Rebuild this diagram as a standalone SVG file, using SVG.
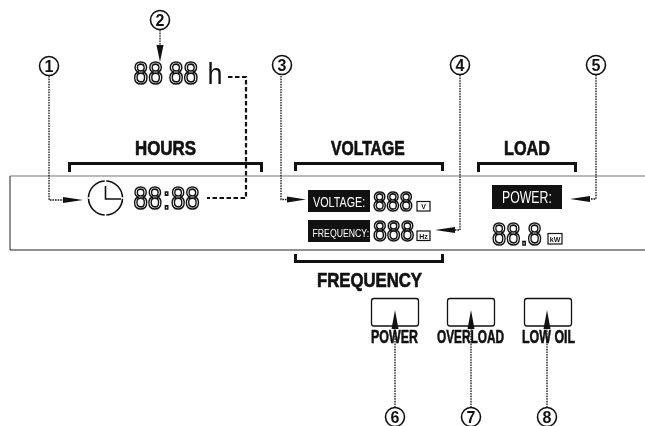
<svg xmlns="http://www.w3.org/2000/svg" width="645" height="426" viewBox="0 0 645 426">
<style>
.hd{font:bold 21px "Liberation Sans",Arial,sans-serif;fill:#111;stroke:#111;stroke-width:.7}
.lb{font:bold 18px "Liberation Sans",Arial,sans-serif;fill:#111;stroke:#111;stroke-width:.55}
.seg{font:400 31px "Liberation Sans",Arial,sans-serif;fill:none;stroke:#111;stroke-width:1.7}
.wt{font-family:"Liberation Sans",Arial,sans-serif;fill:#fff}
.num{font:bold 16px "Liberation Sans",Arial,sans-serif;fill:#111;text-anchor:middle}
.unit{font:bold 7px "Liberation Sans",Arial,sans-serif;fill:#111;text-anchor:middle}
.c{fill:#fff;stroke:#111;stroke-width:1.6}
.box{fill:#fff;stroke:#111;stroke-width:1.2}
.br{fill:none;stroke:#111;stroke-width:3}
.dot{fill:none;stroke:#111;stroke-width:1.3;stroke-dasharray:1.6 1}
.dash{fill:none;stroke:#111;stroke-width:2.2;stroke-dasharray:4.5 2.5}
.btn{fill:#fff;stroke:#111;stroke-width:1.3}
</style>
<defs><filter id="gray" filterUnits="userSpaceOnUse" x="0" y="0" width="645" height="426" color-interpolation-filters="sRGB"><feOffset dx="0" dy="0"/></filter></defs>
<g filter="url(#gray)">
<g id="panel">
<path d="M10 250V176" fill="none" stroke="#222" stroke-width="1"/>
<path d="M10 176H645" fill="none" stroke="#777" stroke-width="1.2"/>
<path d="M10 250H645" fill="none" stroke="#222" stroke-width="1.2"/>
</g>
<g id="hours-group">
<text class="hd" transform="translate(135 155) scale(.805 1)">HOURS</text>
<path class="br" d="M69.500 172V163.500H261.500V172"/>
</g>
<g id="voltage-group">
<text class="hd" transform="translate(331 155) scale(.749 1)">VOLTAGE</text>
<path class="br" d="M295.500 171V163.500H442.500V171"/>
</g>
<g id="frequency-group">
<text class="hd" transform="translate(317 287) scale(.797 1)">FREQUENCY</text>
<path class="br" d="M295.500 254V261.500H442.500V254"/>
</g>
<g id="load-group">
<text class="hd" transform="translate(504 155) scale(.773 1)">LOAD</text>
<path class="br" d="M478.500 172V163.500H575.500V172"/>
</g>
<g id="connectors">
<path class="dash" d="M228 77H246V198H207"/>
<path class="dot" d="M160 30V46"/><path d="M156.500 45H163.500L160 62Z" fill="#111"/>
<path class="dot" d="M49 76V200H63"/><path d="M63 197V203L83 200Z" fill="#111"/>
<path class="dot" d="M281 76V199.500H288"/><path d="M287 196.500V202.500L306 199.500Z" fill="#111"/>
<path class="dot" d="M460 75V230H455"/><path d="M455 227V233L435 230Z" fill="#111"/>
<path class="dot" d="M596 75V199H590"/><path d="M590 196V202L570 199Z" fill="#111"/>
</g>
<g id="clock">
<circle cx="105.500" cy="198" r="17" fill="none" stroke="#111" stroke-width="1.6"/>
<path d="M105.500 180V216M87.500 198H124" stroke="#fff" stroke-width="1.5"/>
<path d="M105.500 186V199H121" fill="none" stroke="#111" stroke-width="1.6"/>
</g>
<g id="hour-readout">
<text class="seg" transform="translate(133.500 84) scale(.85 1)" dx="0 0 7 0">8888</text>
<text transform="translate(207.500 84) scale(.9 1)" font-family="Liberation Sans,sans-serif" font-size="30" fill="#111">h</text>
<text class="seg" transform="translate(133.500 209) scale(.83 1)" dx="0 0 1 1 0">88:88</text>
</g>
<g id="voltage-readout">
<rect x="308" y="190" width="62" height="22" fill="#111"/>
<text class="wt" transform="translate(313 206.700) scale(.7 1)" font-size="15.400">VOLTAGE:</text>
<text class="seg" transform="translate(373 211) scale(.855 1)" style="font-size:28px">888</text>
<rect class="box" x="417" y="201.500" width="13" height="9.500"/>
<text class="unit" x="423.500" y="209">V</text>
</g>
<g id="frequency-readout">
<rect x="308" y="220" width="62" height="22" fill="#111"/>
<text class="wt" transform="translate(312.500 236.700) scale(.75 1)" font-size="11.600">FREQUENCY:</text>
<text class="seg" transform="translate(373 241) scale(.855 1)" style="font-size:29px">888</text>
<rect class="box" x="417" y="231" width="13" height="9.500"/>
<text class="unit" x="423.500" y="238.500">Hz</text>
</g>
<g id="power-readout">
<rect x="492" y="185" width="70" height="24" fill="#111"/>
<text class="wt" transform="translate(502 203) scale(.74 1)" font-size="16.600">POWER:</text>
<text class="seg" transform="translate(492 245) scale(.8 1)" style="font-size:32px">88.8</text>
<rect class="box" x="548" y="233.500" width="14" height="10.500"/>
<text class="unit" x="555" y="241.500">kW</text>
</g>
<g id="btn-power">
<rect class="btn" x="371.500" y="298.500" width="47" height="27.500" rx="2.500"/>
<text class="lb" transform="translate(371 343) scale(.69 1)">POWER</text>
</g>
<g id="btn-overload">
<rect class="btn" x="447.500" y="298.500" width="47" height="27.500" rx="2.500"/>
<text class="lb" transform="translate(437 343) scale(.657 1)">OVERLOAD</text>
</g>
<g id="btn-lowoil">
<rect class="btn" x="524.500" y="298.500" width="47" height="27.500" rx="2.500"/>
<text class="lb" transform="translate(522 343) scale(.69 1)">LOW OIL</text>
</g>
<g id="connectors-lower">
<path class="dot" d="M395 328V408M471 328V408M547 328V408"/>
<path d="M391.500 329H398.500L395 310ZM467.500 329H474.500L471 310ZM543.500 329H550.500L547 310Z" fill="#111"/>
</g>
<g id="badge-1"><circle class="c" cx="49" cy="66" r="9.500"/><text class="num" x="49" y="71.500">1</text></g>
<g id="badge-2"><circle class="c" cx="160" cy="20" r="9.500"/><text class="num" x="160" y="25.500">2</text></g>
<g id="badge-3"><circle class="c" cx="282" cy="65" r="9.500"/><text class="num" x="282" y="70.500">3</text></g>
<g id="badge-4"><circle class="c" cx="460" cy="65" r="9.500"/><text class="num" x="460" y="70.500">4</text></g>
<g id="badge-5"><circle class="c" cx="596" cy="65" r="9.500"/><text class="num" x="596" y="70.500">5</text></g>
<g id="badge-6"><circle class="c" cx="395" cy="417" r="9.500"/><text class="num" x="395" y="422.500">6</text></g>
<g id="badge-7"><circle class="c" cx="471" cy="417" r="9.500"/><text class="num" x="471" y="422.500">7</text></g>
<g id="badge-8"><circle class="c" cx="547" cy="417" r="9.500"/><text class="num" x="547" y="422.500">8</text></g>
</g>
</svg>
